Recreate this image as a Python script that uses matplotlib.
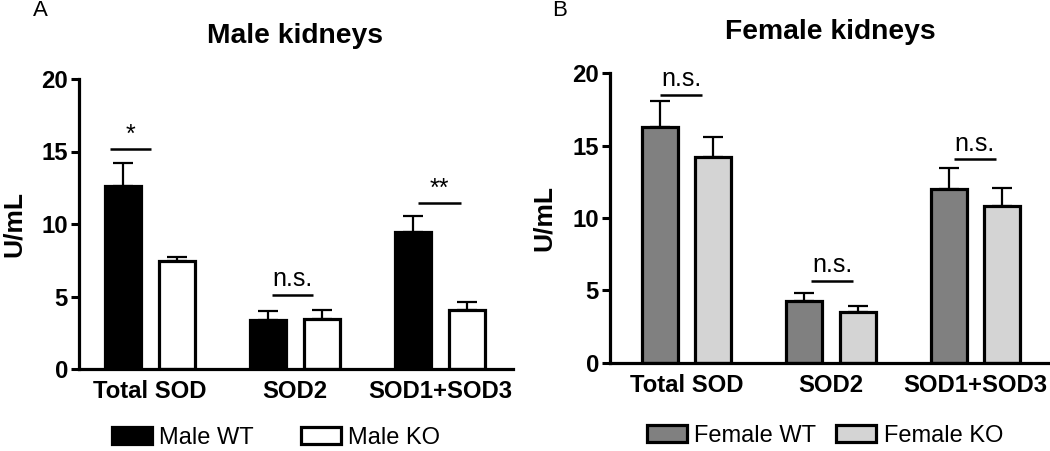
import matplotlib
matplotlib.use("Agg")
import matplotlib.pyplot as plt
import numpy as np
from matplotlib.patches import Patch

plt.rcParams['font.family'] = ['Liberation Sans', 'DejaVu Sans']

categories = ["Total SOD", "SOD2", "SOD1+SOD3"]

male_wt = [12.64, 3.38, 9.43]
male_wt_err = [1.6, 0.62, 1.12]
male_ko = [7.45, 3.45, 4.07]
male_ko_err = [0.25, 0.62, 0.53]

female_wt = [16.3, 4.28, 12.0]
female_wt_err = [1.8, 0.52, 1.48]
female_ko = [14.24, 3.48, 10.83]
female_ko_err = [1.34, 0.44, 1.27]

male_sig_labels = ["*", "n.s.", "**"]
male_sig_y = [15.17, 5.1, 11.43]
female_sig_labels = ["n.s.", "n.s.", "n.s."]
female_sig_y = [18.5, 5.67, 14.05]

yticks = [0, 5, 10, 15, 20]

# annotation line extents relative to group centre (layout)
male_sig_span = [(-0.276, 0.007), (-0.159, 0.124), (-0.152, 0.145)]
female_sig_span = [(-0.185, 0.106), (-0.137, 0.154), (-0.15, 0.14)]

fig = plt.figure(figsize=(10.5, 4.51), dpi=100)

W, H = 1050, 451
axL = fig.add_axes([79 / W, 1 - 369 / H, 434 / W, 290 / H])
axR = fig.add_axes([610 / W, 1 - 362.7 / H, 438 / W, 289.4 / H])

width = 0.25
off = 0.185
lw_edge = 2.3


def draw(ax, wt, wt_err, ko, ko_err, wt_col, ko_col, sig_labels, sig_y, sig_span, xlim):
    x = np.arange(len(categories))
    ax.errorbar(x - off, wt, yerr=[np.zeros(len(wt)), wt_err], fmt='none',
                ecolor='black', elinewidth=1.6, capsize=7.5, capthick=1.6, zorder=1)
    ax.errorbar(x + off, ko, yerr=[np.zeros(len(ko)), ko_err], fmt='none',
                ecolor='black', elinewidth=1.6, capsize=7.5, capthick=1.6, zorder=1)
    ax.bar(x - off, wt, width, color=wt_col, edgecolor='black', linewidth=lw_edge, zorder=2)
    ax.bar(x + off, ko, width, color=ko_col, edgecolor='black', linewidth=lw_edge, zorder=2)
    for i, (lab, yy, (a, b)) in enumerate(zip(sig_labels, sig_y, sig_span)):
        ax.plot([i + a, i + b], [yy, yy], color='black', lw=1.8, solid_capstyle='butt',
                clip_on=False)
        if lab.startswith('*'):
            ax.text(i + (a + b) / 2, yy + 0.15, lab, ha='center', va='bottom',
                    fontsize=18, clip_on=False)
        else:
            ax.text(i + (a + b) / 2, yy + 0.25, lab, ha='center', va='bottom',
                    fontsize=18, clip_on=False)
    ax.set_xlim(*xlim)
    ax.set_ylim(0, 20)
    ax.set_yticks(yticks)
    ax.set_xticks(x)
    ax.set_xticklabels(categories, fontsize=17.2, fontweight='bold')
    for t in ax.get_yticklabels():
        t.set_fontweight('bold')
        t.set_fontsize(17.2)
    ax.tick_params(axis='x', length=0, pad=8)
    ax.tick_params(axis='y', length=6, width=2.2, pad=2)
    ax.spines['top'].set_visible(False)
    ax.spines['right'].set_visible(False)
    ax.spines['left'].set_linewidth(2.3)
    ax.spines['bottom'].set_linewidth(2.3)
    ax.set_ylabel("U/mL", fontsize=19, fontweight='bold')


draw(axL, male_wt, male_wt_err, male_ko, male_ko_err, 'black', 'white',
     male_sig_labels, male_sig_y, male_sig_span, (-0.49, 2.503))
draw(axR, female_wt, female_wt_err, female_ko, female_ko_err, '#808080', '#d4d4d4',
     female_sig_labels, female_sig_y, female_sig_span, (-0.531, 2.502))

axL.yaxis.set_label_coords(-0.122, 0.5)
axR.yaxis.set_label_coords(-0.124, 0.5)

fig.text(295 / W, 1 - 36 / H, "Male kidneys", ha='center', va='center',
         fontsize=20.3, fontweight='bold')
fig.text(830 / W, 1 - 32 / H, "Female kidneys", ha='center', va='center',
         fontsize=20.3, fontweight='bold')
fig.text(33 / W, 1 - 10 / H, "A", ha='left', va='center', fontsize=16)
fig.text(552 / W, 1 - 10 / H, "B", ha='left', va='center', fontsize=16)

male_handles = [Patch(facecolor='black', edgecolor='black', linewidth=2.3, label='Male WT'),
                Patch(facecolor='white', edgecolor='black', linewidth=2.3, label='Male KO')]
fig.legend(handles=male_handles, loc='center left',
           bbox_to_anchor=(112 / W, 1 - 438 / H), ncol=2, frameon=False,
           fontsize=17, handlelength=1.7, handleheight=0.75, handletextpad=0.3,
           columnspacing=2.0, borderpad=0, borderaxespad=0)

female_handles = [Patch(facecolor='#808080', edgecolor='black', linewidth=2.3, label='Female WT'),
                  Patch(facecolor='#d4d4d4', edgecolor='black', linewidth=2.3, label='Female KO')]
fig.legend(handles=female_handles, loc='center left',
           bbox_to_anchor=(647 / W, 1 - 436 / H), ncol=2, frameon=False,
           fontsize=17, handlelength=1.7, handleheight=0.75, handletextpad=0.3,
           columnspacing=0.85, borderpad=0, borderaxespad=0)

fig.savefig("out.png", dpi=100)
